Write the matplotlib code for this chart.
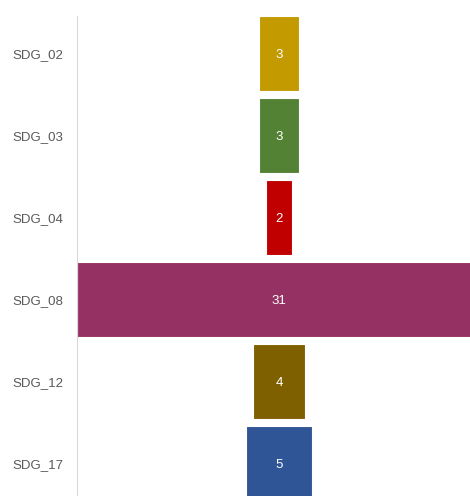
import matplotlib.pyplot as plt

categories = ['SDG_02', 'SDG_03', 'SDG_04', 'SDG_08', 'SDG_12', 'SDG_17']
values = [3, 3, 2, 31, 4, 5]
colors = ['#C39A00', '#548235', '#C00000', '#953263', '#7F6000', '#2F5597']

plt.rcParams['font.family'] = ['Liberation Sans', 'DejaVu Sans']

fig = plt.figure(figsize=(4.7, 4.96), dpi=100)
# plot area runs off the right and bottom edge, as in the cropped original
ax = fig.add_axes([77 / 470, -4.5 / 496, 404 / 470, 484.5 / 496])

pos = list(range(len(categories)))
lefts = [-v / 2 for v in values]
bars = ax.barh(pos, values, left=lefts, height=0.91, color=colors,
               edgecolor='white', linewidth=0.8)

for p, v in zip(pos, values):
    ax.text(0, p + 0.02, str(v), ha='center', va='center', color='white', fontsize=9.5)

ax.set_xlim(-max(values) / 2, max(values) / 2)
ax.set_ylim(len(categories) - 0.545, -0.455)
ax.set_yticks(pos)
ax.set_yticklabels(categories, fontsize=9.5, color='#595959')
ax.tick_params(axis='y', length=0, pad=9.8)
ax.set_xticks([])
for side in ['top', 'right', 'bottom']:
    ax.spines[side].set_visible(False)
ax.spines['left'].set_color('#D9D9D9')

fig.savefig('out.png', dpi=100)
